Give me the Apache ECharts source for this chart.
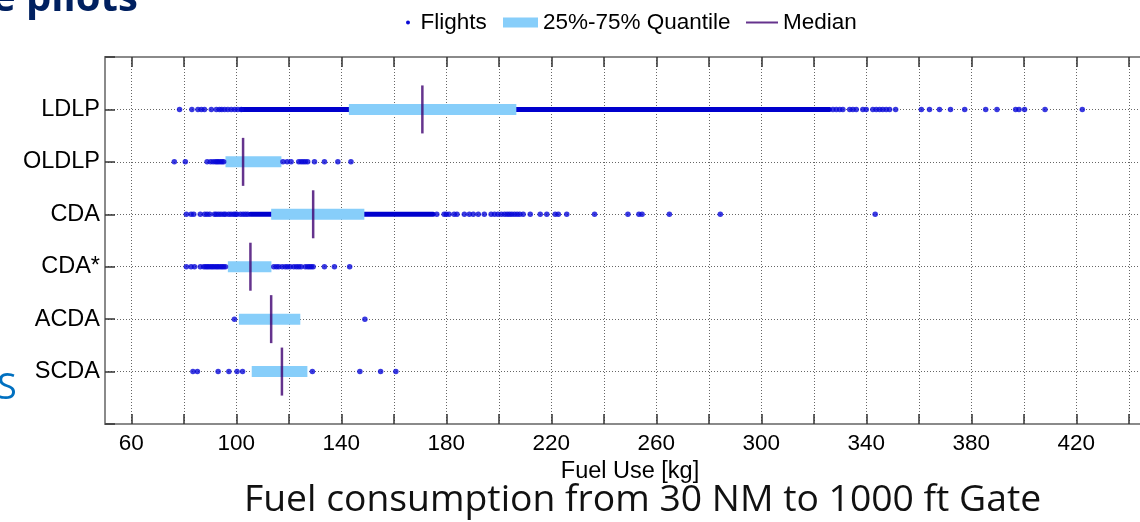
<!DOCTYPE html>
<html lang="en">
<head>
<meta charset="UTF-8" />
<title>Fuel use</title>
<script src="https://cdn.jsdelivr.net/npm/echarts@6/dist/echarts.min.js"></script>
<style>
  html, body { margin: 0; padding: 0; background: #fff; }
  #main { width: 1140px; height: 522px; }
</style>
</head>
<body>
<div id="main"></div>
<script>
// row order on the y axis, bottom to top (empty slots pad top and bottom)
var yCats = ['', 'SCDA', 'ACDA', 'CDA*', 'CDA', 'OLDLP', 'LDLP', ''];
var categories = ['LDLP', 'OLDLP', 'CDA', 'CDA*', 'ACDA', 'SCDA'];

// quantiles per category (same order as categories)
var q25 = [142.9, 95.9, 113.3, 96.8, 101.0, 105.9];
var q75 = [206.7, 117.2, 148.8, 113.4, 124.4, 127.1];
var median = [170.9, 102.6, 129.3, 105.4, 113.3, 117.4];

// single flights (sparse part)
var ldlpFlights = [78.4, 83.1, 85.4, 86.7, 87.9, 90.5, 92.4, 93.6, 94.5, 95.6, 96.8, 98.1, 99.4, 100.6, 101.9,
  327.3, 328.6, 329.9, 331.1, 333.7, 334.9, 336.2, 338.7, 340.0, 342.5, 343.8, 345.1, 346.3, 347.6, 348.9, 351.2,
  361.0, 364.1, 367.9, 372.1, 377.5, 385.5, 389.8, 396.9, 398.2, 400.3, 408.1, 422.3];
var oldlpFlights = [76.4, 80.6, 88.9, 90.2, 91.2, 92.1, 92.7, 93.3, 94.0, 94.6, 95.2,
  117.8, 119.4, 120.9, 123.8, 124.7, 125.5, 126.3, 127.2, 129.8, 133.6, 138.7, 143.7];
var cdaFlights = [81.0, 82.8, 83.8, 86.3, 88.0, 88.9, 89.9, 91.7, 92.4, 93.3, 94.2, 95.2, 95.9, 97.1, 98.0, 99.0,
  99.7, 100.3, 101.6, 102.6, 103.5, 104.4,
  176.4, 179.2, 180.0, 181.1, 183.0, 184.1, 186.9, 188.8, 190.3, 192.2, 194.5, 197.1, 198.4, 199.7, 201.0,
  202.2, 203.2, 204.1, 205.0, 206.0, 207.0, 208.0, 209.3, 212.0, 215.8, 218.3, 221.5, 222.7, 225.9,
  236.5, 249.2, 253.4, 254.6, 265.0, 284.4, 343.4];
var cdaStarFlights = [81.0, 82.8, 84.1, 86.3, 87.6, 88.3, 88.9, 89.5, 90.2, 90.8, 91.4, 92.1, 92.7, 93.3, 94.0,
  94.6, 95.2, 95.9, 114.3, 115.3, 116.2, 117.5, 118.7, 119.6, 120.6, 121.9, 122.9, 123.8, 124.7, 126.3,
  127.2, 127.9, 128.6, 129.3, 133.6, 137.4, 143.2];
var acdaFlights = [99.3, 149.0];
var scdaFlights = [83.5, 85.2, 93.1, 97.2, 100.3, 102.4, 129.0, 147.1, 155.0, 160.8];

// ranges where the flights are so dense they merge into a solid line
var ldlpDense = [102.0, 326.0];
var cdaDense = [105.4, 175.0];

var xTicks = [60, 80, 100, 120, 140, 160, 180, 200, 220, 240, 260, 280, 300, 320, 340, 360, 380, 400, 420, 440];
var xLabels = [60, 100, 140, 180, 220, 260, 300, 340, 380, 420];

var FONT = '"Liberation Sans", Arial, sans-serif';

var flightPoints = [];
[[categories[0], ldlpFlights], [categories[1], oldlpFlights], [categories[2], cdaFlights],
 [categories[3], cdaStarFlights], [categories[4], acdaFlights], [categories[5], scdaFlights]]
  .forEach(function (row) {
    row[1].forEach(function (v) { flightPoints.push([v, row[0]]); });
  });

var denseData = [
  [ldlpDense[0], ldlpDense[1], yCats.indexOf('LDLP')],
  [cdaDense[0], cdaDense[1], yCats.indexOf('CDA')]
];

var boxData = categories.map(function (c, i) {
  return [q25[i], q75[i], yCats.indexOf(c)];
});
var medianData = categories.map(function (c, i) {
  return [median[i], c];
});

var chart = echarts.init(document.getElementById('main'));

var dotted = { color: '#666', type: [1, 2], width: 1 };
var frame = { color: '#8a8a8a', width: 2 };
var tick = { color: '#333', width: 1.5 };
var legendText = { fontSize: 22.5, color: '#000', fontFamily: FONT };

var option = {
  animation: false,
  textStyle: { fontFamily: FONT },
  grid: { left: 105, right: -15, top: 57, bottom: 98, outerBoundsMode: 'none' },
  legend: [
    {
      data: [{ name: 'Flights', icon: 'circle' }],
      left: 406, top: 11, padding: 0, itemWidth: 15, itemHeight: 4,
      selectedMode: false, textStyle: legendText
    },
    {
      data: [{ name: '25%-75% Quantile', icon: 'rect' }],
      left: 503, top: 11, padding: 0, itemWidth: 35, itemHeight: 10,
      selectedMode: false, textStyle: legendText
    },
    {
      data: [{ name: 'Median', icon: 'rect' }],
      left: 746, top: 11, padding: 0, itemWidth: 32, itemHeight: 2,
      selectedMode: false, textStyle: legendText
    }
  ],
  xAxis: [
    {
      type: 'value', min: 50, max: 450, position: 'bottom',
      name: 'Fuel Use [kg]', nameLocation: 'middle', nameGap: 30,
      nameTextStyle: { fontSize: 23.5, color: '#000', fontFamily: FONT },
      axisLine: { show: true, onZero: false, lineStyle: frame },
      axisTick: { show: true, inside: true, length: 10, customValues: xTicks, lineStyle: tick },
      axisLabel: { customValues: xLabels, fontSize: 22.5, color: '#000', margin: 8, fontFamily: FONT },
      splitLine: { show: true, lineStyle: dotted }
    },
    {
      type: 'value', min: 50, max: 450, position: 'top',
      axisLine: { show: true, onZero: false, lineStyle: frame },
      axisTick: { show: true, inside: true, length: 10, customValues: xTicks, lineStyle: tick },
      axisLabel: { show: false },
      splitLine: { show: false }
    }
  ],
  yAxis: {
    type: 'category', data: yCats, boundaryGap: false,
    axisLine: { show: true, onZero: false, lineStyle: frame },
    axisTick: { show: true, inside: true, length: 10, interval: 0, lineStyle: tick },
    axisLabel: { interval: 0, fontSize: 23.5, color: '#000', margin: 5, fontFamily: FONT },
    splitLine: { show: true, interval: 0, lineStyle: dotted }
  },
  series: [
    {
      name: 'Flights', type: 'custom', xAxisIndex: 0,
      encode: { x: [0, 1], y: 2 },
      itemStyle: { color: '#0a0ad6' },
      renderItem: function (params, api) {
        var a = api.coord([api.value(0), api.value(2)]);
        var b = api.coord([api.value(1), api.value(2)]);
        return {
          type: 'line',
          shape: { x1: a[0], y1: a[1], x2: b[0], y2: b[1] },
          style: { stroke: '#0000cd', lineWidth: 5, lineCap: 'round' }
        };
      },
      data: denseData
    },
    {
      name: 'Flights', type: 'scatter', xAxisIndex: 0,
      symbol: 'circle', symbolSize: 5.5,
      itemStyle: { color: '#0808d8' },
      data: flightPoints
    },
    {
      name: '25%-75% Quantile', type: 'custom', xAxisIndex: 0,
      encode: { x: [0, 1], y: 2 },
      itemStyle: { color: '#87cefa' },
      renderItem: function (params, api) {
        var a = api.coord([api.value(0), api.value(2)]);
        var b = api.coord([api.value(1), api.value(2)]);
        return {
          type: 'rect',
          shape: { x: a[0], y: a[1] - 5.5, width: b[0] - a[0], height: 11 },
          style: { fill: '#87cefa' }
        };
      },
      data: boxData
    },
    {
      name: 'Median', type: 'scatter', xAxisIndex: 0,
      symbol: 'rect', symbolSize: [2.5, 48],
      itemStyle: { color: '#3f0070' },
      data: medianData
    }
  ],
  graphic: [
    {
      type: 'text', x: -8, y: 0,
      style: { text: 'e pilots', fontFamily: '"Open Sans", sans-serif', fontWeight: 'bold',
               fontSize: 40, fill: '#002060', verticalAlign: 'middle' }
    },
    {
      type: 'text', x: -3, y: 389,
      style: { text: 'S', fontFamily: '"Open Sans", sans-serif', fontSize: 36,
               fill: '#0070c0', verticalAlign: 'middle' }
    },
    {
      type: 'text', x: 244, y: 500,
      style: { text: 'Fuel consumption from 30 NM to 1000 ft Gate', fontFamily: '"Open Sans", sans-serif',
               fontSize: 37.3, fill: '#111', verticalAlign: 'middle' }
    }
  ]
};

chart.setOption(option);
</script>
</body>
</html>
